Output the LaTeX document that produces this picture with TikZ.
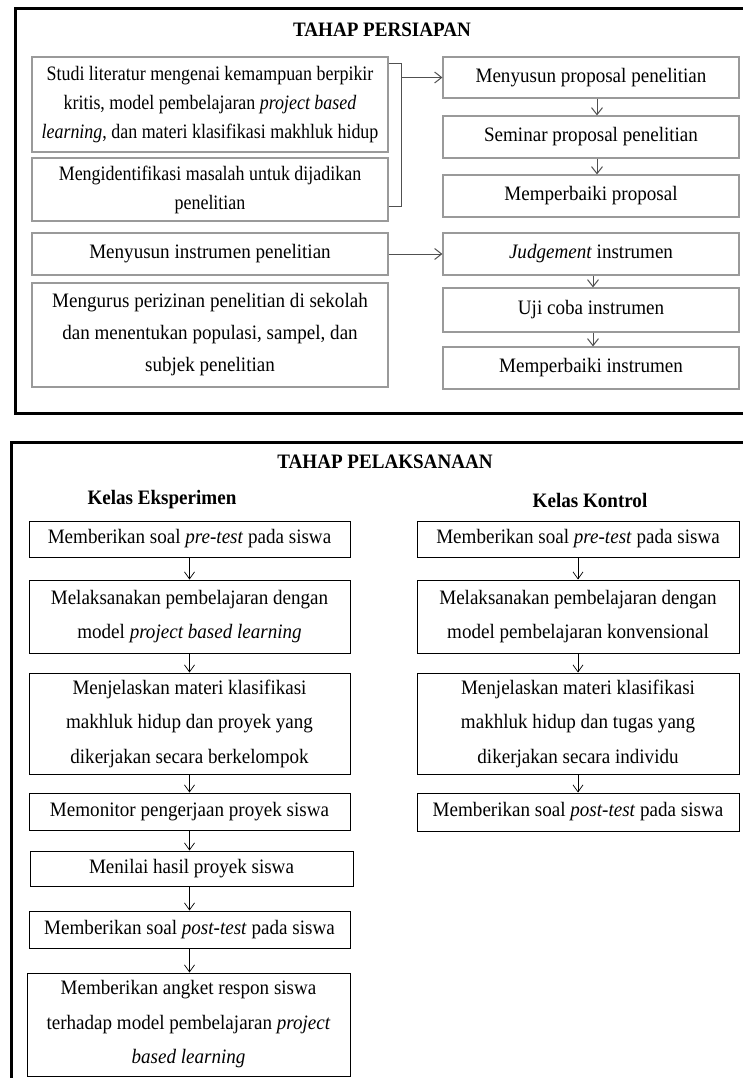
\documentclass[tikz,border=0pt]{standalone}
\usepackage{fontspec}
\setmainfont{Liberation Serif}[FakeStretch=0.93]
\newfontfamily\narrowserif{Liberation Serif}[FakeStretch=0.875]
\usetikzlibrary{arrows.meta}
\definecolor{boxgray}{HTML}{9A9A9A}
\definecolor{lnkgray}{HTML}{505050}
\begin{document}
\begin{tikzpicture}[x=1pt,y=-1pt,
  topfont/.style={font=\fontsize{20.5}{29}\selectfont},
  leftfont/.style={font=\narrowserif\fontsize{20.5}{29}\selectfont},
  botfont/.style={font=\fontsize{20.5}{34.5}\selectfont},
  gbox/.style={draw=boxgray,line width=1.2pt,inner sep=0pt,align=center,topfont},
  lbox/.style={gbox,leftfont},
  kbox/.style={draw=black,line width=1pt,inner sep=0pt,align=center,botfont},
  frame/.style={draw=black,line width=3pt},
  title/.style={font=\fontsize{20.5}{22}\selectfont\bfseries},
  garr/.style={draw=lnkgray,line width=1pt,-{Straight Barb[length=7pt,width=11pt]}},
  karr/.style={draw=black,line width=0.7pt,-{Straight Barb[length=7pt,width=10pt]}},
  bracket/.style={draw=lnkgray,line width=1.2pt}
]
\useasboundingbox (0,0) rectangle (743,1078);
\clip (0,0) rectangle (743,1078);
\fill[white] (0,0) rectangle (743,1078);

% frames
\draw[frame] (15,9) rectangle (770,413);
\draw[frame] (11,442) rectangle (770,1110);

% ---------- TAHAP PERSIAPAN ----------
\node[title] (t1) at (382,30) {TAHAP PERSIAPAN};

\node[lbox,minimum width=356pt,minimum height=95pt] (a1) at (210,104.5)
  {Studi literatur mengenai kemampuan berpikir\\ kritis, model pembelajaran \textit{project based}\\ \textit{learning}, dan materi klasifikasi makhluk hidup};
\node[lbox,minimum width=356pt,minimum height=63pt] (a2) at (210,189.5)
  {Mengidentifikasi masalah untuk dijadikan\\ penelitian};
\node[gbox,minimum width=356pt,minimum height=42pt] (a3) at (210,254)
  {Menyusun instrumen penelitian};
\node[gbox,minimum width=356pt,minimum height=104pt,font=\fontsize{20.5}{32}\selectfont] (a4) at (210,335)
  {Mengurus perizinan penelitian di sekolah\\ dan menentukan populasi, sampel, dan\\ subjek penelitian};

\node[gbox,minimum width=296pt,minimum height=41pt] (b1) at (591,77.5) {Menyusun proposal penelitian};
\node[gbox,minimum width=296pt,minimum height=42pt] (b2) at (591,137) {Seminar proposal penelitian};
\node[gbox,minimum width=296pt,minimum height=42pt] (b3) at (591,196) {Memperbaiki proposal};
\node[gbox,minimum width=296pt,minimum height=42pt] (b4) at (591,254) {\textit{Judgement} instrumen};
\node[gbox,minimum width=296pt,minimum height=44pt] (b5) at (591,310) {Uji coba instrumen};
\node[gbox,minimum width=296pt,minimum height=42pt] (b6) at (591,368) {Memperbaiki instrumen};

% bracket and arrows
\coordinate (brA) at ([yshift=-7pt]a1.north east);
\coordinate (brB) at ([yshift=15pt]a2.south east);
\coordinate (br1) at ([xshift=13pt]brA);
\coordinate (br2) at ([xshift=13pt]brB);
\draw[bracket] (brA) -- (br1) -- (br2) -- (brB);
\draw[garr] (br1 |- b1.west) -- (b1.west);
\draw[garr] (a3.east) -- (b4.west);
\draw[garr] ([xshift=6pt]b1.south) -- ([xshift=6pt]b2.north);
\draw[garr] ([xshift=6pt]b2.south) -- ([xshift=6pt]b3.north);
\draw[garr] ([xshift=2pt]b4.south) -- ([xshift=2pt]b5.north);
\draw[garr] ([xshift=2pt]b5.south) -- ([xshift=2pt]b6.north);

% ---------- TAHAP PELAKSANAAN ----------
\node[title] (t2) at (385,462) {TAHAP PELAKSANAAN};
\node[title] (ke) at (162,500) {Kelas Eksperimen};
\node[title] (kk) at (590,500) {Kelas Kontrol};

\node[kbox,minimum width=321pt,minimum height=36pt] (c1) at (189.5,539) {Memberikan soal \textit{pre-test} pada siswa};
\node[kbox,minimum width=321pt,minimum height=73pt] (c2) at (189.5,616.5) {Melaksanakan pembelajaran dengan\\ model \textit{project based learning}};
\node[kbox,minimum width=321pt,minimum height=101pt] (c3) at (189.5,723.5) {Menjelaskan materi klasifikasi\\ makhluk hidup dan proyek yang\\ dikerjakan secara berkelompok};
\node[kbox,minimum width=321pt,minimum height=37pt] (c4) at (189.5,811.5) {Memonitor pengerjaan proyek siswa};
\node[kbox,minimum width=323pt,minimum height=35pt] (c5) at (191.5,868.5) {Menilai hasil proyek siswa};
\node[kbox,minimum width=321pt,minimum height=37pt] (c6) at (189.5,929.5) {Memberikan soal \textit{post-test} pada siswa};
\node[kbox,minimum width=323pt,minimum height=103pt] (c7) at (188.5,1024.5) {Memberikan angket respon siswa\\ terhadap model pembelajaran \textit{project}\\ \textit{based learning}};

\node[kbox,minimum width=322pt,minimum height=36pt] (d1) at (578,539) {Memberikan soal \textit{pre-test} pada siswa};
\node[kbox,minimum width=322pt,minimum height=73pt] (d2) at (578,616.5) {Melaksanakan pembelajaran dengan\\ model pembelajaran konvensional};
\node[kbox,minimum width=322pt,minimum height=101pt] (d3) at (578,723.5) {Menjelaskan materi klasifikasi\\ makhluk hidup dan tugas yang\\ dikerjakan secara individu};
\node[kbox,minimum width=322pt,minimum height=38pt] (d4) at (578,812) {Memberikan soal \textit{post-test} pada siswa};

\draw[karr] (c1.south) -- (c2.north);
\draw[karr] (c2.south) -- (c3.north);
\draw[karr] (c3.south) -- (c4.north);
\draw[karr] (c4.south) -- (c4.south |- c5.north);
\draw[karr] (c5.south -| c4.south) -- (c6.north);
\draw[karr] (c6.south) -- (c7.north -| c6.south);

\draw[karr] (d1.south) -- (d2.north);
\draw[karr] (d2.south) -- (d3.north);
\draw[karr] (d3.south) -- (d4.north);
\end{tikzpicture}
\end{document}
